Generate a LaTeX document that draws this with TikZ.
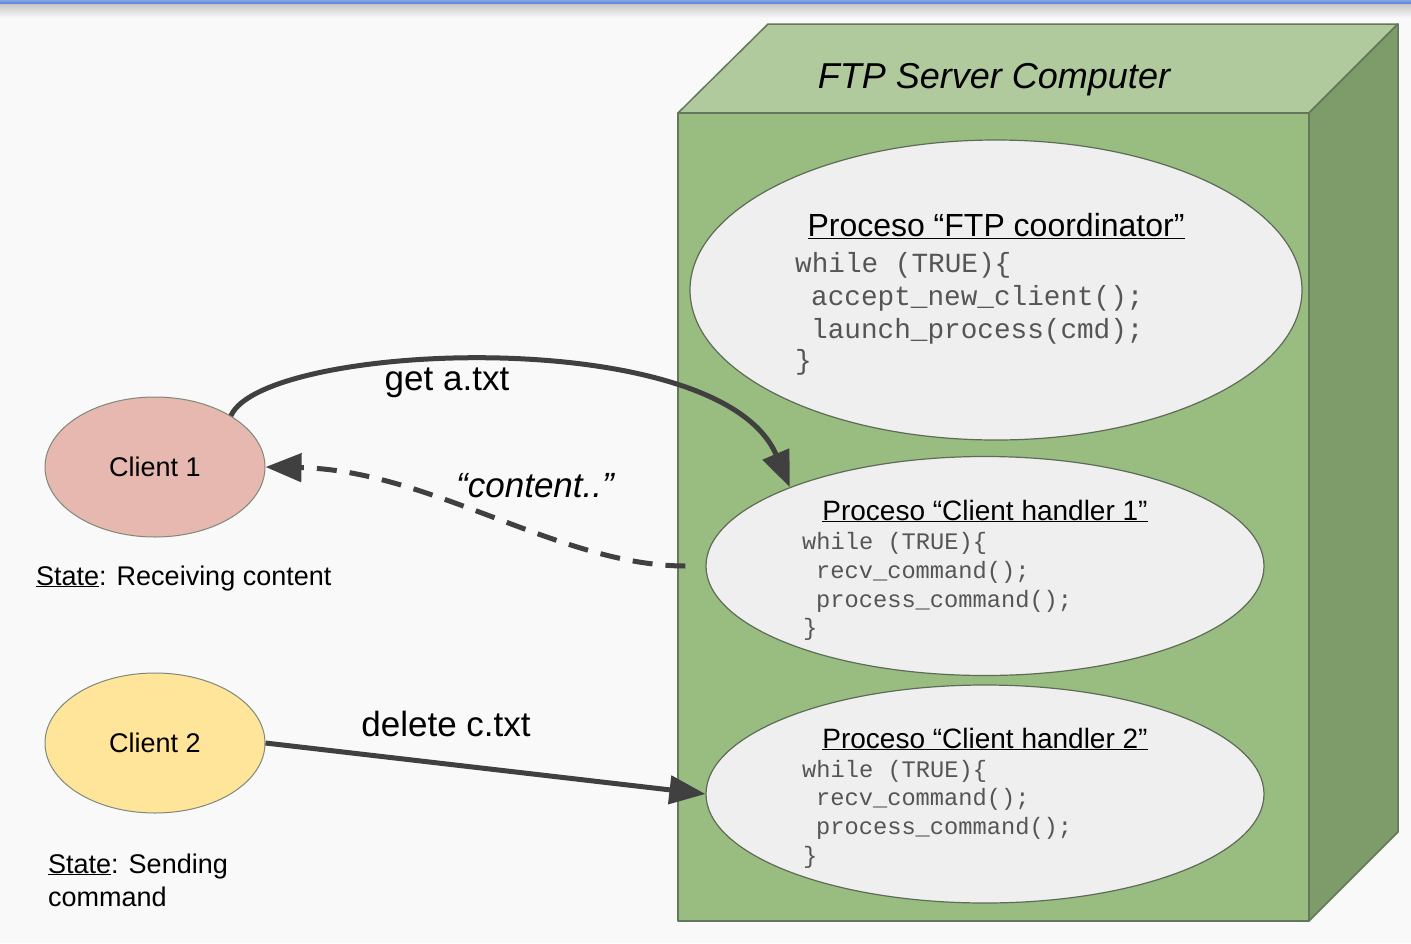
\documentclass[tikz,border=0pt]{standalone}
\usepackage{fontspec}
\setmainfont{Liberation Sans}
\setmonofont{Liberation Mono}
\usetikzlibrary{arrows.meta,shapes.geometric}
\definecolor{bgcol}{HTML}{F9F9F9}
\definecolor{topgreen}{HTML}{B1CA9D}
\definecolor{frontgreen}{HTML}{99BC81}
\definecolor{sidegreen}{HTML}{7E9B6A}
\definecolor{boxedge}{HTML}{64775A}
\definecolor{procfill}{HTML}{EFEFEF}
\definecolor{procedge}{HTML}{5E6B57}
\definecolor{c1fill}{HTML}{E6B8AF}
\definecolor{c2fill}{HTML}{FFE599}
\definecolor{arrowcol}{HTML}{404040}
\definecolor{codecol}{HTML}{555555}
\definecolor{barblue}{HTML}{4F7FD6}
\begin{document}
\begin{tikzpicture}[x=1pt,y=-1pt,
  boxline/.style={draw=boxedge,line width=1.5pt,line join=round},
  proc/.style={ellipse,draw=procedge,line width=1.2pt,fill=procfill,inner sep=0pt},
  client/.style={ellipse,draw=procedge!80,line width=1pt,inner sep=0pt,minimum width=220pt,minimum height=140pt,font=\fontsize{27}{32}\selectfont},
  ptitleA/.style={anchor=base,inner sep=0pt,font=\fontsize{32}{38}\selectfont},
  ptitleB/.style={anchor=base,inner sep=0pt,font=\fontsize{28}{34}\selectfont},
  codeA/.style={anchor=base west,inner sep=0pt,text=codecol,font=\ttfamily\fontsize{27.7}{33}\selectfont},
  codeB/.style={anchor=base west,inner sep=0pt,text=codecol,font=\ttfamily\fontsize{23.7}{29}\selectfont},
  lbl/.style={anchor=base,inner sep=0pt,font=\fontsize{35}{40}\selectfont},
  statetxt/.style={anchor=base west,inner sep=0pt,font=\fontsize{27}{33}\selectfont},
  conn/.style={draw=arrowcol,line width=5pt,-{Triangle[length=36pt,width=28pt]}}
]
\useasboundingbox (0,0) rectangle (1411,943);
\fill[bgcol] (0,0) rectangle (1411,943);
% top bar
\shade[top color=barblue!70!white,bottom color=barblue] (0,0) rectangle (1411,4);
\shade[top color=black!22,bottom color=bgcol] (0,4) rectangle (1411,18);
% server box
\draw[boxline,fill=topgreen] (678,113) -- (768,24) -- (1398,24) -- (1309,113) -- cycle;
\draw[boxline,fill=sidegreen] (1309,113) -- (1398,24) -- (1398,832) -- (1309,921) -- cycle;
\draw[boxline,fill=frontgreen] (678,113) rectangle (1309,921);
\node[anchor=base,inner sep=0pt,font=\itshape\fontsize{36}{42}\selectfont] (srvtitle) at (994,88) {FTP Server Computer};
% processes
\node[proc,minimum width=612pt,minimum height=300pt] (coord) at (996,290) {};
\node[proc,minimum width=558pt,minimum height=219pt] (h1) at (985,566) {};
\node[proc,minimum width=558pt,minimum height=218pt] (h2) at (985,794) {};
\node[ptitleA] (coordt) at (996,236) {\underline{Proceso “FTP coordinator”}};
\node[codeA] (ca1) at (795,272) {while (TRUE)\{};
\node[codeA] (ca2) at (811,305) {accept\_new\_client();};
\node[codeA] (ca3) at (811,338) {launch\_process(cmd);};
\node[codeA] (ca4) at (795,369) {\}};
\node[ptitleB] (h1t) at (985,520) {\underline{Proceso “Client handler 1”}};
\node[codeB] (cb1) at (802,549) {while (TRUE)\{};
\node[codeB] (cb2) at (816,578) {recv\_command();};
\node[codeB] (cb3) at (816,607) {process\_command();};
\node[codeB] (cb4) at (803,635) {\}};
\node[ptitleB] (h2t) at (985,748) {\underline{Proceso “Client handler 2”}};
\node[codeB] (cc1) at (802,777) {while (TRUE)\{};
\node[codeB] (cc2) at (816,805) {recv\_command();};
\node[codeB] (cc3) at (816,834) {process\_command();};
\node[codeB] (cc4) at (803,863) {\}};
% clients
\node[client,fill=c1fill] (c1) at (155,467) {Client 1};
\node[client,fill=c2fill] (c2) at (155,743) {Client 2};
\node[statetxt] (s1) at (36,585) {\underline{State}: Receiving content};
\node[statetxt] (s2a) at (48,873) {\underline{State}: Sending};
\node[statetxt] (s2b) at (48,906) {command};
% connectors
\draw[conn] (c1.34) .. controls (263,342) and (720,322) .. (h1.158);
\node[lbl] (getl) at (447,390) {get a.txt};
\draw[conn,dash pattern=on 20pt off 13pt,shorten <=20pt] (h1.west) .. controls (560,566) and (430,470) .. (c1.east);
\node[lbl,font=\itshape\fontsize{35}{40}\selectfont] (contl) at (535,497) {“content..”};
\draw[conn] (c2.east) -- (h2.west);
\node[lbl] (dell) at (446,736) {delete c.txt};
\end{tikzpicture}
\end{document}
